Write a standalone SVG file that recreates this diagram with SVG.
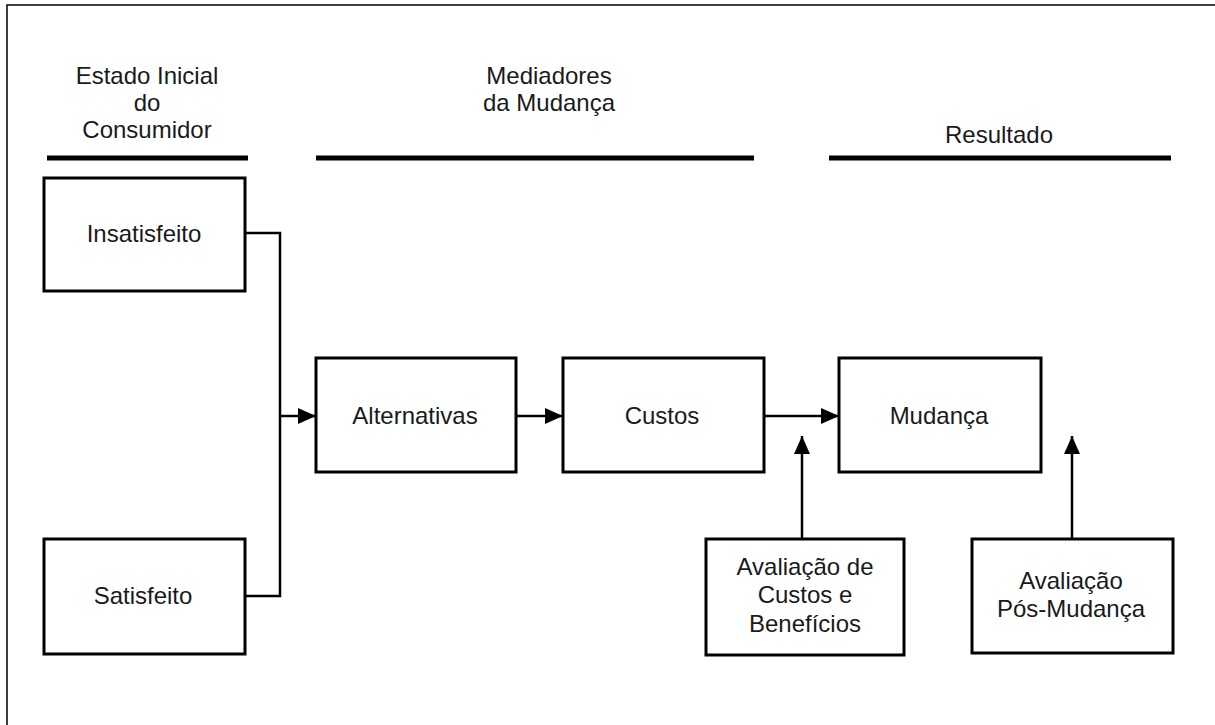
<svg xmlns="http://www.w3.org/2000/svg" width="1215" height="725" viewBox="0 0 1215 725">
<style>
.box{fill:#fff;stroke:#000;stroke-width:3}
.t{font-family:"Liberation Sans",Arial,sans-serif;font-size:24px;fill:#1a1a1a;text-anchor:middle}
.c{fill:none;stroke:#000;stroke-width:2.5}
.hdr{stroke:#000;stroke-width:5}
</style>
<defs>
<marker id="ah" markerUnits="userSpaceOnUse" markerWidth="18" markerHeight="18" viewBox="0 0 18 18" refX="18" refY="9" orient="auto">
<path d="M0,1 L18,9 L0,17 Z" fill="#000"/>
</marker>
</defs>
<rect width="1215" height="725" fill="#fff"/>
<path d="M7,725 V5 H1215" fill="none" stroke="#000" stroke-width="1.5"/>
<g id="headers">
<text class="t" x="147" y="84">Estado Inicial</text>
<text class="t" x="147" y="111">do</text>
<text class="t" x="147" y="138">Consumidor</text>
<line class="hdr" x1="47" y1="158" x2="248" y2="158"/>
<text class="t" x="549" y="84">Mediadores</text>
<text class="t" x="549" y="111">da Mudança</text>
<line class="hdr" x1="316" y1="158" x2="754" y2="158"/>
<text class="t" x="999" y="143">Resultado</text>
<line class="hdr" x1="829" y1="158" x2="1171" y2="158"/>
</g>
<g id="connectors">
<path class="c" d="M245,233 H280 V596 H245"/>
<line class="c" x1="280" y1="416" x2="316" y2="416" marker-end="url(#ah)"/>
<line class="c" x1="516" y1="416" x2="563" y2="416" marker-end="url(#ah)"/>
<line class="c" x1="764" y1="416" x2="839" y2="416" marker-end="url(#ah)"/>
<line class="c" x1="802" y1="539" x2="802" y2="436" marker-end="url(#ah)"/>
<line class="c" x1="1072" y1="539" x2="1072" y2="436" marker-end="url(#ah)"/>
</g>
<g id="insatisfeito">
<rect class="box" x="44" y="178" width="201" height="113"/>
<text class="t" x="144" y="242">Insatisfeito</text>
</g>
<g id="satisfeito">
<rect class="box" x="44" y="539" width="201" height="115"/>
<text class="t" x="143" y="604">Satisfeito</text>
</g>
<g id="alternativas">
<rect class="box" x="316" y="358" width="200" height="114"/>
<text class="t" x="415" y="424">Alternativas</text>
</g>
<g id="custos">
<rect class="box" x="563" y="358" width="201" height="114"/>
<text class="t" x="662" y="424">Custos</text>
</g>
<g id="mudanca">
<rect class="box" x="839" y="358" width="202" height="114"/>
<text class="t" x="939" y="424">Mudança</text>
</g>
<g id="avaliacao-custos">
<rect class="box" x="706" y="539" width="198" height="116"/>
<text class="t" x="805" y="575">Avaliação de</text>
<text class="t" x="805" y="603">Custos e</text>
<text class="t" x="805" y="632">Benefícios</text>
</g>
<g id="avaliacao-pos">
<rect class="box" x="972" y="539" width="201" height="114"/>
<text class="t" x="1071" y="589">Avaliação</text>
<text class="t" x="1071" y="617">Pós-Mudança</text>
</g>
</svg>
